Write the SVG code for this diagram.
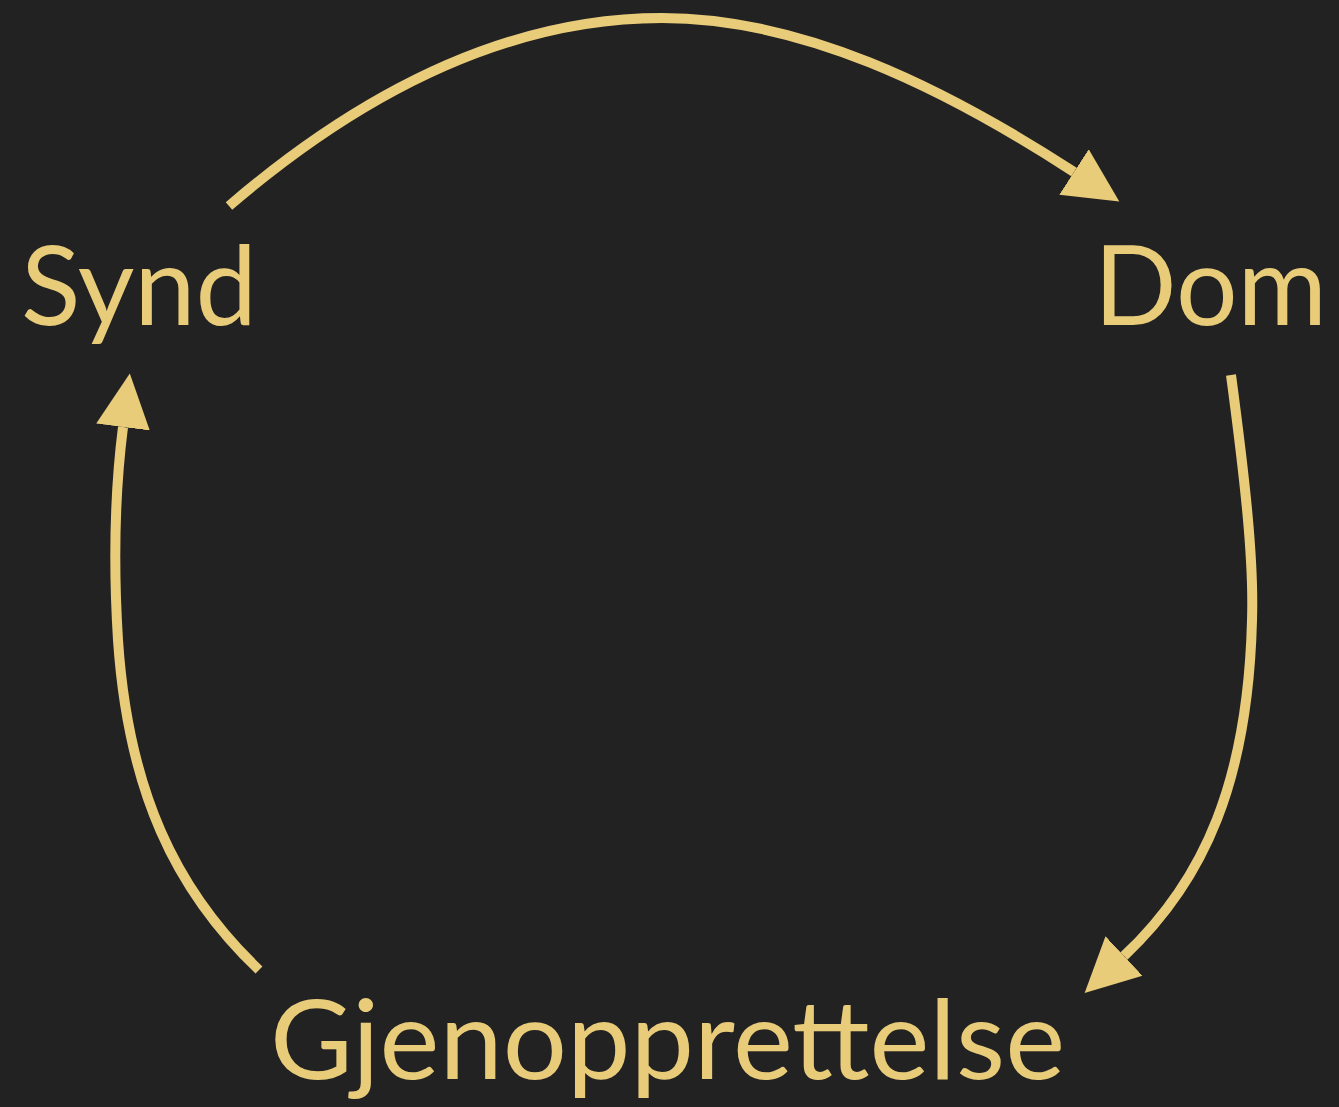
<svg xmlns="http://www.w3.org/2000/svg" width="1339" height="1107" viewBox="0 0 1339 1107">
<defs>
<style>
.lbl{font-family:Lato,"Noto Sans","Liberation Sans",sans-serif;font-size:110px;fill:#E8CC7A}
.edge{fill:none;stroke:#E8CC7A;stroke-width:10}
</style>
<marker id="ah" markerUnits="userSpaceOnUse" markerWidth="60" markerHeight="60" viewBox="0 -30 60 60" refX="0" refY="0" orient="auto">
<path d="M0,-27 L54,0 L0,27 z" fill="#E8CC7A"/>
</marker>
</defs>
<rect width="1339" height="1107" fill="#222222"/>
<g id="connectors">
<path class="edge" marker-end="url(#ah)" d="M229,206 C370,85 515,18 662,18 C800,18 940,85 1074,172"/>
<path class="edge" marker-end="url(#ah)" d="M1231,375 C1245,480 1254,560 1252,620 C1248,780 1205,880 1124,956"/>
<path class="edge" marker-end="url(#ah)" d="M259,970 C175,890 128,790 118,640 C113,560 115,490 123,427"/>
</g>
<g id="node-synd"><text class="lbl" x="21" y="325" textLength="236" lengthAdjust="spacingAndGlyphs">Synd</text></g>
<g id="node-dom"><text class="lbl" x="1094" y="325" textLength="233" lengthAdjust="spacingAndGlyphs">Dom</text></g>
<g id="node-gjenopprettelse"><text class="lbl" x="270" y="1079" textLength="795" lengthAdjust="spacingAndGlyphs">Gjenopprettelse</text></g>
</svg>
